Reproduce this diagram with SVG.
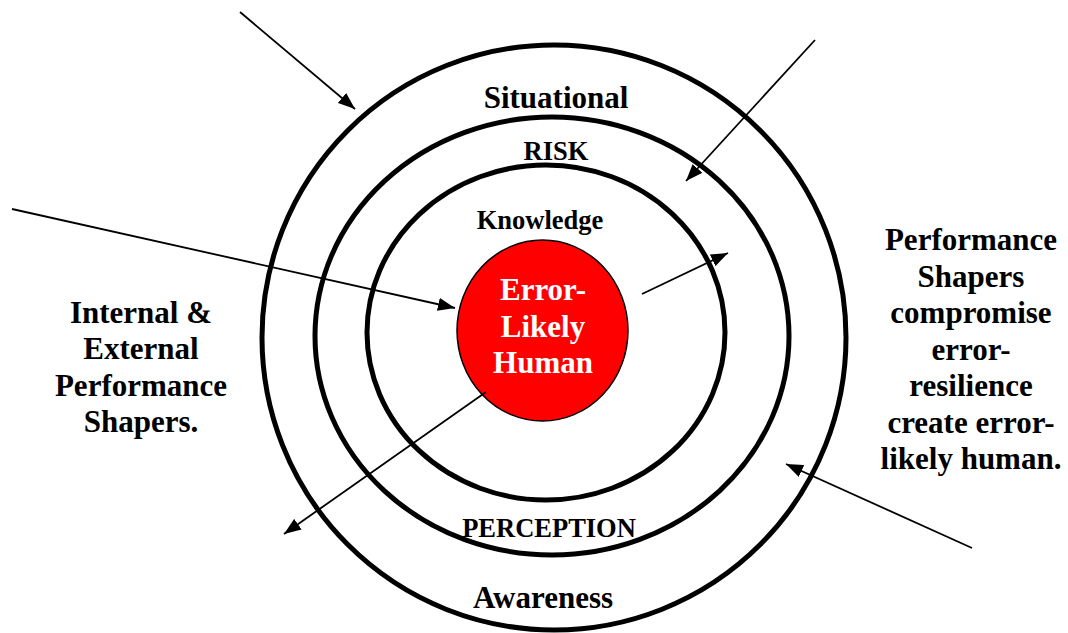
<svg xmlns="http://www.w3.org/2000/svg" width="1068" height="633" viewBox="0 0 1068 633">
  <style>
    .ring { fill: none; stroke: #000; stroke-width: 5; }
    .core { fill: #ff0000; stroke: #000; stroke-width: 1.5; }
    .lbl { font-family: "Liberation Serif", "Times New Roman", serif; font-weight: bold; fill: #000; text-anchor: middle; }
    .big { font-size: 31px; }
    .mid { font-size: 26.5px; }
    .white { fill: #fff; }
    .arrow { stroke: #000; stroke-width: 1.8; fill: none; marker-end: url(#head); }
  </style>
  <defs>
    <marker id="head" viewBox="0 0 17 13" refX="17" refY="6.5" markerWidth="17" markerHeight="13" markerUnits="userSpaceOnUse" orient="auto">
      <path d="M0,0 L17,6.5 L0,13 Z" fill="#000"/>
    </marker>
  </defs>
  <rect width="1068" height="633" fill="#fff"/>

  <!-- concentric rings -->
  <g id="ring-situational-awareness">
    <ellipse class="ring" cx="554" cy="337.5" rx="292" ry="292.5"/>
    <text class="lbl big" x="556" y="108">Situational</text>
    <text class="lbl big" x="543" y="608">Awareness</text>
  </g>
  <g id="ring-risk-perception">
    <ellipse class="ring" cx="552" cy="336" rx="237" ry="219"/>
    <text class="lbl mid" x="556" y="160">RISK</text>
    <text class="lbl mid" x="549" y="537">PERCEPTION</text>
  </g>
  <g id="ring-knowledge">
    <ellipse class="ring" cx="546" cy="332.5" rx="179" ry="167.5"/>
    <text class="lbl mid" x="540" y="229">Knowledge</text>
  </g>
  <g id="core-human">
    <ellipse class="core" cx="542.5" cy="330.5" rx="85.5" ry="90.5"/>
    <text class="lbl big white" x="543" y="300">Error-</text>
    <text class="lbl big white" x="543" y="337">Likely</text>
    <text class="lbl big white" x="543" y="373">Human</text>
  </g>

  <!-- side captions -->
  <g id="caption-left">
    <text class="lbl big" x="141" y="323">Internal &amp;</text>
    <text class="lbl big" x="141" y="359">External</text>
    <text class="lbl big" x="141" y="396">Performance</text>
    <text class="lbl big" x="141" y="432">Shapers.</text>
  </g>
  <g id="caption-right">
    <text class="lbl big" x="971" y="250">Performance</text>
    <text class="lbl big" x="971" y="287">Shapers</text>
    <text class="lbl big" x="971" y="323">compromise</text>
    <text class="lbl big" x="971" y="360">error-</text>
    <text class="lbl big" x="971" y="396">resilience</text>
    <text class="lbl big" x="971" y="433">create error-</text>
    <text class="lbl big" x="971" y="469">likely human.</text>
  </g>

  <!-- arrows -->
  <g id="connectors">
    <line class="arrow" x1="240" y1="12" x2="355" y2="109"/>
    <line class="arrow" x1="815" y1="40" x2="686" y2="181"/>
    <line class="arrow" x1="12" y1="209" x2="455" y2="308"/>
    <line class="arrow" x1="642" y1="294" x2="728" y2="253"/>
    <line class="arrow" x1="486" y1="392" x2="284" y2="534"/>
    <line class="arrow" x1="972" y1="548" x2="786" y2="464"/>
  </g>
</svg>
